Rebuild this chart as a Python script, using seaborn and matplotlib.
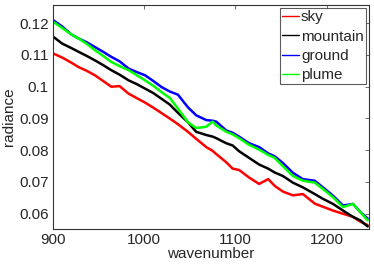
import numpy as np
import pandas as pd
import matplotlib
matplotlib.use("Agg")
import matplotlib.pyplot as plt
import seaborn as sns

# values
wavenumber = [900, 910, 920, 928, 937, 946, 955, 964, 973, 983, 992, 1001, 1010, 1019,
              1028, 1037, 1048, 1057, 1068, 1075, 1079, 1090, 1097, 1104, 1115, 1126,
              1136, 1143, 1152, 1163, 1174, 1187, 1196, 1207, 1218, 1229, 1237, 1245]

sky = [0.1105, 0.1092, 0.1076, 0.1062, 0.1050, 0.1036, 0.1018, 0.1000, 0.1002, 0.0978,
       0.0964, 0.0950, 0.0934, 0.0917, 0.0900, 0.0882, 0.0858, 0.0836, 0.0810, 0.0798,
       0.0788, 0.0762, 0.0742, 0.0738, 0.0714, 0.0694, 0.0709, 0.0688, 0.0670, 0.0658,
       0.0662, 0.0632, 0.0622, 0.0610, 0.0600, 0.0590, 0.0575, 0.0564]

mountain = [0.1158, 0.1136, 0.1122, 0.1110, 0.1097, 0.1083, 0.1068, 0.1052, 0.1038, 0.1020,
            0.1008, 0.0994, 0.0980, 0.0962, 0.0944, 0.0918, 0.0888, 0.0858, 0.0848, 0.0843,
            0.0838, 0.0822, 0.0815, 0.0797, 0.0776, 0.0755, 0.0742, 0.0730, 0.0719, 0.0698,
            0.0683, 0.0662, 0.0647, 0.0631, 0.0610, 0.0590, 0.0579, 0.0560]

ground = [0.1210, 0.1190, 0.1165, 0.1152, 0.1140, 0.1125, 0.1110, 0.1094, 0.1080, 0.1057,
          0.1046, 0.1036, 0.1018, 0.0999, 0.0985, 0.0975, 0.0935, 0.0910, 0.0895, 0.0893,
          0.0890, 0.0862, 0.0855, 0.0843, 0.0822, 0.0810, 0.0790, 0.0781, 0.0760, 0.0729,
          0.0709, 0.0704, 0.0683, 0.0657, 0.0626, 0.0631, 0.0605, 0.0585]

plume = [0.1205, 0.1185, 0.1165, 0.1152, 0.1135, 0.1115, 0.1097, 0.1078, 0.1065, 0.1052,
         0.1036, 0.1020, 0.1003, 0.0983, 0.0965, 0.0931, 0.0888, 0.0870, 0.0874, 0.0890,
         0.0878, 0.0858, 0.0850, 0.0838, 0.0817, 0.0802, 0.0785, 0.0776, 0.0750, 0.0719,
         0.0704, 0.0698, 0.0678, 0.0652, 0.0621, 0.0631, 0.0605, 0.0579]

classes = ["sky", "mountain", "ground", "plume"]
colors = ["#ff0000", "#000000", "#0000ff", "#00ff00"]
xticks = [900, 1000, 1100, 1200]
yticks = [0.06, 0.07, 0.08, 0.09, 0.1, 0.11, 0.12]
ytick_labels = ["0.06", "0.07", "0.08", "0.09", "0.1", "0.11", "0.12"]

frames = []
for name, vals in zip(classes, [sky, mountain, ground, plume]):
    frames.append(pd.DataFrame({"wavenumber": wavenumber, "radiance": vals, "class": name}))
df = pd.concat(frames, ignore_index=True)

sns.set_style("white")
plt.rcParams["font.family"] = ["Liberation Sans", "DejaVu Sans"]
plt.rcParams["xtick.direction"] = "in"
plt.rcParams["ytick.direction"] = "in"

fig = plt.figure(figsize=(3.74, 2.64), dpi=100)
ax = fig.add_axes([0.1417, 0.1326, 0.845, 0.848])

sns.lineplot(data=df, x="wavenumber", y="radiance", hue="class", hue_order=classes,
             palette=colors, linewidth=1.8, estimator=None, sort=False, ax=ax)

ax.set_xlim(900, 1246.5)
ax.set_ylim(0.0552, 0.1257)
ax.set_xticks(xticks)
ax.set_yticks(yticks)
ax.set_yticklabels(ytick_labels)
ax.tick_params(axis="both", labelsize=11, length=3, width=0.6, color="#555555",
               top=True, right=True, pad=3)
for s in ax.spines.values():
    s.set_color("#333333")
    s.set_linewidth(0.8)
ax.set_xlabel("wavenumber", fontsize=11, labelpad=0)
ax.set_ylabel("radiance", fontsize=11, labelpad=2)

handles, labels = ax.get_legend_handles_labels()
leg = ax.legend(handles, labels, loc="upper right", fontsize=11, frameon=True,
                fancybox=False, handlelength=1.1, handletextpad=0.15, labelspacing=0.34,
                borderpad=0.15, borderaxespad=0.2)
leg.get_frame().set_edgecolor("#333333")
leg.get_frame().set_linewidth(0.8)
for h in leg.get_lines():
    h.set_linewidth(1.0)

fig.savefig("out.png", dpi=100)
